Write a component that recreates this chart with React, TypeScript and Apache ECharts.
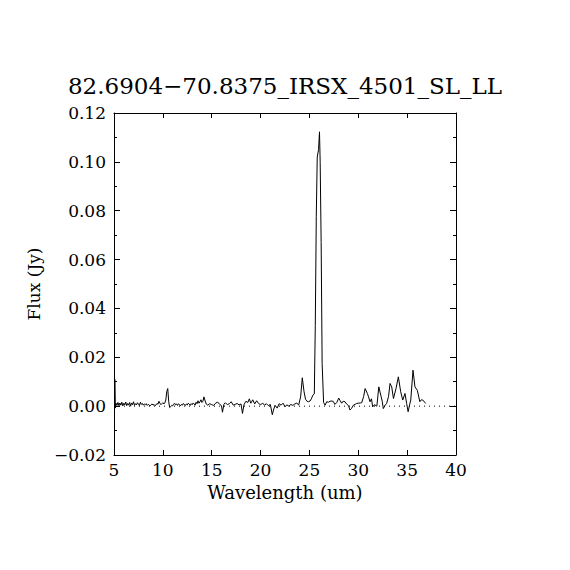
import React, { useEffect, useRef } from "react";
import * as echarts from "echarts";

const TITLE = "82.6904\u221270.8375_IRSX_4501_SL_LL";
const X_NAME = "Wavelength (um)";
const Y_NAME = "Flux (Jy)";

const waveSL = [
  5.10, 5.14, 5.2, 5.3, 5.4, 5.5, 5.6, 5.7, 5.8, 5.9, 6.0, 6.1, 6.2, 6.3, 6.4, 6.5, 6.6, 6.7, 6.8, 6.9,
  7.0, 7.1, 7.2, 7.3, 7.4, 7.5, 7.6, 7.7, 7.8, 7.9, 8.0, 8.1, 8.2, 8.3, 8.4, 8.5, 8.6, 8.7, 8.8, 8.9,
  9.0, 9.1, 9.2, 9.3, 9.4, 9.5, 9.6, 9.7, 9.8, 9.9, 10.0, 10.1, 10.2, 10.3, 10.4, 10.5, 10.6, 10.7, 10.8, 10.9,
  11.0, 11.1, 11.2, 11.3, 11.4, 11.5, 11.6, 11.7, 11.8, 11.9, 12.0, 12.1, 12.2, 12.3, 12.4, 12.5, 12.6, 12.7, 12.8, 12.9,
  13.0, 13.1, 13.2, 13.3, 13.4, 13.5, 13.6, 13.7, 13.8, 13.9, 14.0, 14.1, 14.2, 14.3,
];
const fluxSL = [
  0.0110, -0.0008, 0.0012, 0.0003, 0.0015, 0.0002, 0.0013, 0.0004, 0.0016, 0.0001, 0.0012, 0.0005, 0.0017, 0.0002, 0.0011, 0.0004, 0.0015, 0.0000, 0.0013, 0.0006,
  0.0018, 0.0003, 0.0010, 0.0005, 0.0014, 0.0008, 0.0002, 0.0016, 0.0007, 0.0011, 0.0004, 0.0009, 0.0006, 0.0010, 0.0003, 0.0007, 0.0005, 0.0001, 0.0006, 0.0009,
  0.0004, 0.0007, 0.0002, 0.0005, 0.0011, 0.0008, 0.0020, 0.0012, 0.0006, 0.0010, 0.0014, 0.0009, 0.0013, 0.0025, 0.0060, 0.0072, 0.0018, -0.0006, -0.0002, 0.0003,
  0.0001, 0.0008, 0.0012, 0.0005, 0.0009, 0.0003, 0.0010, 0.0006, 0.0001, 0.0007, 0.0004, 0.0011, 0.0006, 0.0002, 0.0009, 0.0005, 0.0012, 0.0008, 0.0003, 0.0010,
  0.0006, 0.0013, 0.0009, 0.0004, 0.0016, 0.0010, 0.0022, 0.0012, 0.0018, 0.0026, 0.0015, 0.0020, 0.0038, 0.0025,
];

const waveLL = [
  14.45, 14.6, 14.8, 15.0, 15.2, 15.4, 15.6, 15.8, 16.0, 16.1, 16.25, 16.4, 16.6, 16.8, 17.0, 17.2, 17.4, 17.6, 17.8, 18.0,
  18.15, 18.3, 18.5, 18.7, 18.85, 19.0, 19.2, 19.4, 19.6, 19.8, 20.0, 20.2, 20.4, 20.6, 20.8, 21.0, 21.2, 21.35, 21.5, 21.7,
  21.9, 22.1, 22.3, 22.5, 22.7, 22.9, 23.1, 23.3, 23.5, 23.7, 23.9, 24.1, 24.27, 24.45, 24.6, 24.75, 24.9, 25.06, 25.2, 25.35,
  25.5, 25.6, 25.7, 25.8, 25.93, 26.03, 26.1, 26.2, 26.3, 26.45, 26.6, 26.77, 26.95, 27.1, 27.3, 27.45, 27.6, 27.8, 28.0, 28.15,
  28.3, 28.45, 28.64, 28.8, 29.0, 29.15, 29.3, 29.5, 29.7, 29.84, 30.0, 30.2, 30.35, 30.55, 30.7, 30.93, 31.05, 31.2, 31.35, 31.47,
  31.65, 31.9, 32.1, 32.3, 32.45, 32.56, 32.75, 32.9, 33.1, 33.25, 33.42, 33.6, 33.86, 34.1, 34.34, 34.55, 34.78, 34.95, 35.1, 35.25,
  35.37, 35.6, 35.8, 36.04, 36.3, 36.45, 36.6, 36.9,
];
const fluxLL = [
  0.0008, 0.0004, 0.0010, 0.0006, 0.0003, 0.0012, 0.0017, 0.0008, 0.0002, -0.0025, 0.0008, 0.0014, 0.0006, 0.0010, 0.0018, 0.0004, 0.0007, 0.0011, 0.0005, 0.0009,
  -0.0030, 0.0006, 0.0020, 0.0015, 0.0030, 0.0012, 0.0026, 0.0009, 0.0022, 0.0011, 0.0005, 0.0013, 0.0004, 0.0010, 0.0002, 0.0007, -0.0035, -0.0012, 0.0003, -0.0008,
  0.0010, 0.0004, 0.0012, -0.0002, 0.0005, 0.0000, 0.0007, 0.0003, 0.0009, 0.0012, 0.0005, 0.0038, 0.0116, 0.0059, 0.0028, 0.0020, 0.0018, 0.0021, 0.0030, 0.0045,
  0.0050, 0.0330, 0.0775, 0.1020, 0.1050, 0.1123, 0.0998, 0.0670, 0.0175, 0.0015, 0.0004, 0.0018, 0.0016, 0.0020, 0.0021, 0.0019, 0.0007, 0.0015, 0.0033, 0.0022,
  0.0012, 0.0020, 0.0018, 0.0009, 0.0002, -0.0016, -0.0010, 0.0004, 0.0008, 0.0011, 0.0012, 0.0013, 0.0014, 0.0040, 0.0072, 0.0052, 0.0038, 0.0018, 0.0030, -0.0003,
  0.0006, 0.0000, 0.0079, 0.0045, 0.0020, -0.0010, 0.0004, 0.0011, 0.0040, 0.0093, 0.0079, 0.0031, 0.0072, 0.0120, 0.0059, 0.0025, 0.0052, 0.0011, -0.0023, 0.0005,
  0.0025, 0.0147, 0.0079, 0.0065, 0.0018, 0.0026, 0.0025, 0.0011,
];

const X_MIN = 5;
const X_MAX = 40;
const X_STEP = 5;
const Y_MIN = -0.02;
const Y_MAX = 0.12;
const Y_STEP = 0.02;
const ZERO_LINE = [[X_MIN, 0], [X_MAX, 0]];

const FONT = "DejaVu Serif";

function fmtY(v: number): string {
  const s = Math.abs(v).toFixed(2);
  return v < -1e-9 ? "\u2212" + s : s;
}

export default function App() {
  const ref = useRef<HTMLDivElement>(null);
  useEffect(() => {
    document.body.style.margin = "0";
    const chart = echarts.init(ref.current!, null, { renderer: "svg" });
    const spectrum = [
      ...waveSL.map((w, i) => [w, fluxSL[i]]),
      ...waveLL.map((w, i) => [w, fluxLL[i]]),
    ];
    const axisCommon = {
      type: "value" as const,
      axisLine: { show: true, onZero: false, lineStyle: { color: "#000", width: 1 } },
      splitLine: { show: false },
    };
    chart.setOption({
      animation: false,
      backgroundColor: "#fff",
      title: {
        text: TITLE,
        left: "center",
        top: 69,
        textStyle: { fontFamily: FONT, fontSize: 23, fontWeight: "normal", color: "#000" },
      },
      grid: { left: 114, right: 114, top: 113, bottom: 115, containLabel: false },
      xAxis: [
        {
          ...axisCommon,
          position: "bottom",
          min: X_MIN,
          max: X_MAX,
          interval: X_STEP,
          name: X_NAME,
          nameLocation: "middle",
          nameGap: 28,
          nameTextStyle: { fontFamily: FONT, fontSize: 18, color: "#000" },
          axisTick: { show: true, inside: true, length: 5, lineStyle: { color: "#000" } },
          axisLabel: { fontFamily: FONT, fontSize: 17, color: "#000", margin: 6 },
        },
        {
          ...axisCommon,
          position: "top",
          min: X_MIN,
          max: X_MAX,
          interval: X_STEP,
          axisTick: { show: true, inside: true, length: 5, lineStyle: { color: "#000" } },
          axisLabel: { show: false },
        },
      ],
      yAxis: [
        {
          ...axisCommon,
          position: "left",
          min: Y_MIN,
          max: Y_MAX,
          interval: Y_STEP,
          name: Y_NAME,
          nameLocation: "middle",
          nameGap: 72,
          nameTextStyle: { fontFamily: FONT, fontSize: 17, color: "#000" },
          axisTick: { show: true, inside: true, length: 6, lineStyle: { color: "#000" } },
          minorTick: { show: true, splitNumber: 2, length: 3, lineStyle: { color: "#000" } },
          axisLabel: { fontFamily: FONT, fontSize: 17, color: "#000", margin: 8, formatter: fmtY },
        },
        {
          ...axisCommon,
          position: "right",
          min: Y_MIN,
          max: Y_MAX,
          interval: Y_STEP,
          axisTick: { show: true, inside: true, length: 6, lineStyle: { color: "#000" } },
          minorTick: { show: true, splitNumber: 2, length: 3, lineStyle: { color: "#000" } },
          axisLabel: { show: false },
        },
      ],
      series: [
        {
          type: "line",
          data: ZERO_LINE,
          showSymbol: false,
          silent: true,
          lineStyle: { color: "#000", width: 1, type: [1, 4] },
        },
        {
          type: "line",
          data: spectrum,
          showSymbol: false,
          silent: true,
          lineStyle: { color: "#000", width: 1 },
        },
      ],
    });
    return () => chart.dispose();
  }, []);
  return <div ref={ref} style={{ width: 570, height: 570 }} />;
}
